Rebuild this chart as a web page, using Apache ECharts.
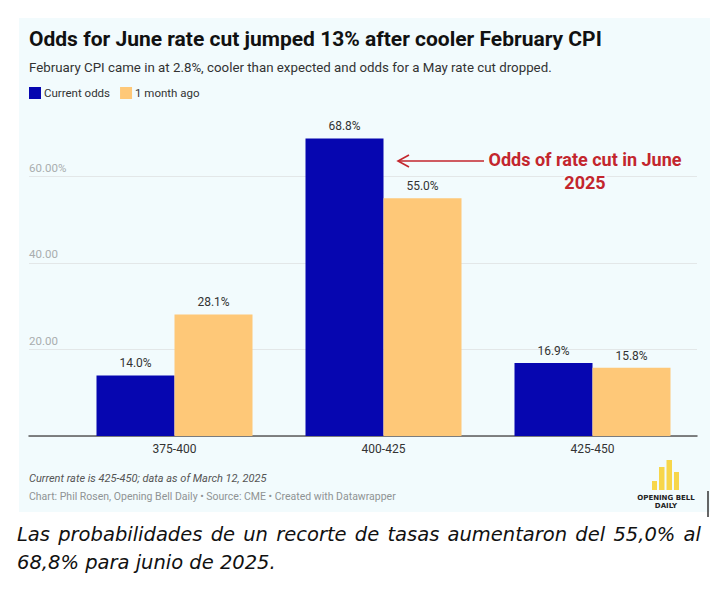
<!DOCTYPE html>
<html>
<head>
<meta charset="utf-8">
<title>Odds for June rate cut</title>
<script src="https://cdn.jsdelivr.net/npm/echarts@6/dist/echarts.min.js"></script>
<style>
  html, body { margin: 0; padding: 0; background: #fff; }
  #panel { position: absolute; left: 19px; top: 18px; width: 691px; height: 494px; background: #f2fbfd; }
  #main { position: absolute; left: 0; top: 0; width: 710px; height: 601px; }
  #caption {
    position: absolute; left: 17px; top: 521px; width: 684px;
    font-family: "DejaVu Sans", sans-serif; font-style: italic; font-size: 19.5px;
    line-height: 28px; color: #111; text-align: justify; text-align-last: left;
  }
</style>
</head>
<body>
<div id="panel"></div>
<div id="main"></div>
<div id="caption">Las probabilidades de un recorte de tasas aumentaron del 55,0% al 68,8% para junio de 2025.</div>
<script>
// data
const categories = ['375-400', '400-425', '425-450']
const currentOdds = [14.0, 68.8, 16.9]
const monthAgo = [28.1, 55.0, 15.8]
const yTicks = [20, 40, 60]
const yTickLabels = ['20.00', '40.00', '60.00%']

const BLUE = '#0606b0'
const ORANGE = '#fec878'
const RED = '#c3262d'
const PANEL = '#f2fbfd'
const FONT = 'Roboto, "Noto Sans", sans-serif'

const myChart = echarts.init(document.getElementById('main'), null, { renderer: 'svg' })

const tickLabel = v => {
    const i = yTicks.indexOf(v)
    return i >= 0 ? yTickLabels[i] : ''
}

const valueLabel = {
    show: true,
    position: 'top',
    distance: 6,
    fontFamily: FONT,
    fontSize: 12,
    color: '#333',
    formatter: p => p.value.toFixed(1) + '%'
}

const option = {
    backgroundColor: 'transparent',
    animation: false,
    title: [
        {
            text: 'Odds for June rate cut jumped 13% after cooler February CPI',
            left: 29, top: 28, padding: 0,
            textStyle: { fontFamily: FONT, fontSize: 21, fontWeight: 'bold', color: '#111' }
        },
        {
            text: 'February CPI came in at 2.8%, cooler than expected and odds for a May rate cut dropped.',
            left: 29, top: 61, padding: 0,
            textStyle: { fontFamily: FONT, fontSize: 13.3, fontWeight: 'normal', color: '#333' }
        }
    ],
    legend: {
        data: ['Current odds', '1 month ago'],
        left: 29, top: 87, padding: 0,
        icon: 'rect', itemWidth: 12, itemHeight: 12, itemGap: 10,
        textStyle: { fontFamily: FONT, fontSize: 11.5, color: '#333', padding: [0, 0, 0, -2] }
    },
    grid: [
        // grid lines and baseline span the full width
        { left: 29, right: 13, top: 90, bottom: 165 },
        // bars sit in a narrower band
        { left: 70, right: 13, top: 90, bottom: 165 }
    ],
    xAxis: [
        {
            type: 'category', gridIndex: 0, data: categories,
            axisLine: { lineStyle: { color: '#5a5a5a', width: 1.5 } },
            axisTick: { show: false }, axisLabel: { show: false }
        },
        {
            type: 'category', gridIndex: 1, data: categories,
            axisLine: { show: false }, axisTick: { show: false },
            axisLabel: { fontFamily: FONT, fontSize: 12, color: '#333', margin: 7 }
        }
    ],
    yAxis: [
        {
            type: 'value', gridIndex: 0, min: 0, max: 80, interval: 20,
            axisLine: { show: false }, axisTick: { show: false },
            splitLine: { showMaxLine: false, lineStyle: { color: '#e3e7e8', width: 1 } },
            axisLabel: {
                inside: true, margin: 0, verticalAlign: 'bottom',
                fontFamily: FONT, fontSize: 11.5, color: '#a9adae',
                padding: [0, 0, 3, 0],
                formatter: tickLabel
            }
        },
        {
            type: 'value', gridIndex: 1, min: 0, max: 80, interval: 20, show: false,
            splitLine: { show: false }
        }
    ],
    series: [
        {
            name: 'Current odds', type: 'bar', xAxisIndex: 1, yAxisIndex: 1,
            data: currentOdds, barWidth: 78, barGap: '0%',
            itemStyle: { color: BLUE }, label: valueLabel
        },
        {
            name: '1 month ago', type: 'bar', xAxisIndex: 1, yAxisIndex: 1,
            data: monthAgo, barWidth: 78, barGap: '0%',
            itemStyle: { color: ORANGE }, label: valueLabel
        }
    ],
    graphic: [
        // annotation arrow
        { type: 'line', shape: { x1: 399, y1: 161, x2: 484, y2: 161 }, style: { stroke: RED, lineWidth: 1.6 } },
        { type: 'polyline', shape: { points: [[409, 155], [398, 161], [409, 167]] }, style: { stroke: RED, lineWidth: 1.6, fill: null } },
        {
            type: 'text', x: 585, y: 171, z: 10,
            style: {
                text: 'Odds of rate cut in June\n2025', font: 'bold 18px ' + FONT, fill: RED,
                align: 'center', verticalAlign: 'middle', lineHeight: 23,
                stroke: PANEL, lineWidth: 4
            }
        },
        // notes
        {
            type: 'text', left: 29, top: 473,
            style: { text: 'Current rate is 425-450; data as of March 12, 2025', font: 'italic 11px ' + FONT, fill: '#555' }
        },
        {
            type: 'text', left: 29, top: 491,
            style: { text: 'Chart: Phil Rosen, Opening Bell Daily \u2022 Source: CME \u2022 Created with Datawrapper', font: '10.5px ' + FONT, fill: '#8f9394' }
        },
        // logo
        { type: 'rect', shape: { x: 652, y: 481, width: 5, height: 9 }, style: { fill: '#f7d64a' } },
        { type: 'rect', shape: { x: 659, y: 467, width: 5.5, height: 23 }, style: { fill: '#f7d64a' } },
        { type: 'rect', shape: { x: 666.5, y: 460, width: 5.5, height: 30 }, style: { fill: '#f7d64a' } },
        { type: 'rect', shape: { x: 674, y: 472, width: 5, height: 18 }, style: { fill: '#f7d64a' } },
        {
            type: 'text', x: 666, y: 502,
            style: {
                text: 'OPENING BELL\nDAILY', font: 'bold 7px "DejaVu Sans", sans-serif', fill: '#222',
                align: 'center', verticalAlign: 'middle', lineHeight: 8
            }
        },
        { type: 'line', shape: { x1: 708, y1: 491, x2: 708, y2: 517 }, style: { stroke: '#333', lineWidth: 1.5 } }
    ]
}

myChart.setOption(option)
</script>
</body>
</html>
